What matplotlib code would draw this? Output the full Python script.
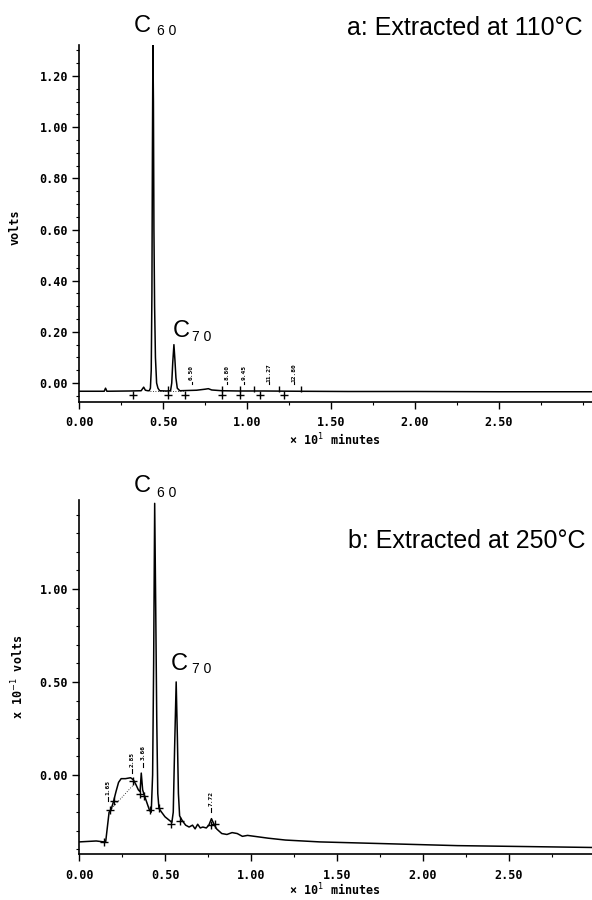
import matplotlib
matplotlib.use("Agg")
import matplotlib.pyplot as plt
from matplotlib.ticker import MultipleLocator, FormatStrFormatter, FixedLocator

# ---------------- data ----------------
# panel a: extracted at 110 C  (x in 10^1 minutes, y in volts)
a_time = [0.00, 0.10, 0.150, 0.158, 0.166, 0.30, 0.37, 0.385, 0.395, 0.41, 0.418,
          0.425, 0.430, 0.434, 0.437, 0.440, 0.443, 0.446, 0.450, 0.455, 0.462,
          0.470, 0.48, 0.52, 0.545, 0.552, 0.558, 0.565, 0.571, 0.577, 0.585,
          0.60, 0.65, 0.70, 0.75, 0.77, 0.79, 0.85, 0.95, 1.10, 1.30, 1.60,
          2.00, 2.50, 3.06]
a_volts = [-0.032, -0.032, -0.032, -0.020, -0.032, -0.031, -0.030, -0.016, -0.028, -0.030, -0.030,
           -0.020, 0.050, 0.350, 0.900, 1.320, 1.100, 0.600, 0.300, 0.100, 0.000,
           -0.020, -0.030, -0.031, -0.030, 0.000, 0.080, 0.150, 0.090, 0.020, -0.020,
           -0.030, -0.029, -0.028, -0.024, -0.022, -0.027, -0.030, -0.031, -0.031, -0.032, -0.033,
           -0.033, -0.034, -0.034]
a_marks_low = [0.32, 0.53, 0.63, 0.85, 0.96, 1.08, 1.22]
a_marks_high = [0.53, 0.85, 0.96, 1.04, 1.19, 1.32]
a_peak_pos = [0.67, 0.88, 0.98, 1.13, 1.28]
a_peak_labels = ["6.50", "8.80", "9.45", "11.27", "12.80"]

# panel b: extracted at 250 C  (x in 10^1 minutes, y in 10^-1 volts)
b_time = [0.00, 0.10, 0.145, 0.155, 0.165, 0.175, 0.185, 0.200, 0.215, 0.230, 0.245,
          0.270, 0.300, 0.315, 0.330, 0.345, 0.355, 0.362, 0.370, 0.380, 0.395,
          0.410, 0.420, 0.428, 0.434, 0.440, 0.446, 0.452, 0.458, 0.465, 0.480,
          0.500, 0.520, 0.540, 0.548, 0.556, 0.565, 0.572, 0.578, 0.585, 0.600,
          0.620, 0.640, 0.660, 0.675, 0.690, 0.705, 0.720, 0.740, 0.755, 0.770,
          0.785, 0.800, 0.830, 0.860, 0.890, 0.920, 0.950, 0.980, 1.020, 1.100,
          1.200, 1.400, 1.800, 2.200, 2.600, 2.990]
b_volts = [-0.36, -0.355, -0.36, -0.36, -0.28, -0.20, -0.19, -0.145, -0.09, -0.04, -0.02,
           -0.02, -0.015, -0.025, -0.05, -0.08, -0.09, 0.01, -0.08, -0.11, -0.15,
           -0.19, -0.20, 0.00, 0.60, 1.46, 0.90, 0.30, -0.10, -0.18, -0.20,
           -0.225, -0.24, -0.255, -0.20, 0.15, 0.50, 0.20, -0.10, -0.22, -0.245,
           -0.27, -0.28, -0.27, -0.29, -0.265, -0.285, -0.28, -0.285, -0.27, -0.235,
           -0.265, -0.29, -0.315, -0.32, -0.31, -0.315, -0.33, -0.325, -0.33, -0.34,
           -0.35, -0.36, -0.37, -0.38, -0.385, -0.39]
b_mark_time = [0.148, 0.18, 0.205, 0.315, 0.355, 0.38, 0.415, 0.465, 0.535, 0.59, 0.77, 0.79]
b_mark_volts = [-0.36, -0.19, -0.14, -0.03, -0.10, -0.115, -0.19, -0.18, -0.265, -0.245, -0.27, -0.265]
b_peak_pos = [0.17, 0.31, 0.37, 0.77]
b_peak_label_y = [-0.065, 0.085, 0.12, -0.125]
b_peak_labels = ["1.65", "2.85", "3.66", "7.72"]
b_dotted_time = [0.18, 0.32]
b_dotted_volts = [-0.19, -0.05]

x_tick_values = [0.0, 0.5, 1.0, 1.5, 2.0, 2.5]

W, H = 592, 900
fig = plt.figure(figsize=(W / 100, H / 100), dpi=100)

def fx(px):
    return px / W

def fy(py):
    return 1 - py / H

MONO = dict(family="DejaVu Sans Mono", weight="bold")
SANS = "Liberation Sans"

def style_axes(ax, xmax, ylo, yhi, ymaj, ymin, fmt, xpad):
    ax.set_xlim(0, xmax)
    ax.set_ylim(ylo, yhi)
    for s in ("top", "right"):
        ax.spines[s].set_visible(False)
    for s in ("left", "bottom"):
        ax.spines[s].set_linewidth(1.2)
    ax.xaxis.set_major_locator(FixedLocator(x_tick_values))
    ax.xaxis.set_minor_locator(MultipleLocator(0.25))
    ax.yaxis.set_major_locator(MultipleLocator(ymaj))
    ax.yaxis.set_minor_locator(MultipleLocator(ymin))
    ax.xaxis.set_major_formatter(FormatStrFormatter("%.2f"))
    ax.yaxis.set_major_formatter(FormatStrFormatter(fmt))
    ax.tick_params(which="major", direction="out", length=5, width=1.0)
    ax.tick_params(which="minor", direction="out", length=2.5, width=0.8)
    ax.tick_params(axis="x", pad=xpad)
    ax.tick_params(axis="y", pad=3)
    for lab in ax.get_xticklabels() + ax.get_yticklabels():
        lab.set_fontfamily("DejaVu Sans Mono")
        lab.set_fontweight("bold")
        lab.set_fontsize(8.5)
    ax.patch.set_alpha(0)

# ---------------- panel a ----------------
ax1 = fig.add_axes([fx(79), fy(402), fx(W - 79), fy(45) - fy(402)])
ax1.plot(a_time, a_volts, color="black", lw=1.1)
ax1.plot([0.42, 0.62], [-0.031, -0.031], color="black", lw=0.6, ls=(0, (1, 2)))
ax1.plot(a_marks_low, [-0.048] * len(a_marks_low), ls="none", marker="+",
         ms=6, mew=1.0, color="black")
ax1.plot(a_marks_high, [-0.022] * len(a_marks_high), ls="none", marker="|",
         ms=5, mew=1.0, color="black")
for xp, lab in zip(a_peak_pos, a_peak_labels):
    ax1.text(xp, 0.04, lab, rotation=90, ha="center", va="center",
             fontsize=4.5, family="DejaVu Sans Mono", weight="bold")
    ax1.plot([xp, xp], [-0.004, 0.006], color="black", lw=0.8)
style_axes(ax1, (W - 79) / 168, -0.074, 1.321, 0.2, 0.05, "%.2f", 5)

# ---------------- panel b ----------------
ax2 = fig.add_axes([fx(79), fy(854), fx(W - 79), fy(500) - fy(854)])
ax2.plot(b_time, b_volts, color="black", lw=1.1)
ax2.plot(b_dotted_time, b_dotted_volts, color="black", lw=0.6, ls=(0, (1, 2)))
ax2.plot(b_mark_time, b_mark_volts, ls="none", marker="+", ms=6, mew=1.0, color="black")
for xp, yp, lab in zip(b_peak_pos, b_peak_label_y, b_peak_labels):
    ax2.text(xp, yp, lab, rotation=90, ha="center", va="center",
             fontsize=4.5, family="DejaVu Sans Mono", weight="bold")
    ax2.plot([xp, xp], [yp - 0.075, yp - 0.055], color="black", lw=0.8)
style_axes(ax2, (W - 79) / 172, -0.425, 1.478, 0.5, 0.1, "%.2f", 6)

# ---------------- texts ----------------
fig.text(fx(583), fy(35), "a: Extracted at 110°C", ha="right", va="baseline",
         fontsize=18, family=SANS)
fig.text(fx(585), fy(548), "b: Extracted at 250°C", ha="right", va="baseline",
         fontsize=18, family=SANS)

def clabel(px, py, sub, spx, spy):
    fig.text(fx(px), fy(py), "C", ha="left", va="baseline", fontsize=17, family=SANS)
    fig.text(fx(spx), fy(spy), sub, ha="left", va="baseline", fontsize=10, family=SANS)

clabel(134, 32, "6 0", 157, 35)
clabel(173, 337, "7 0", 192, 341)
clabel(134, 492, "6 0", 157, 497)
clabel(171, 670, "7 0", 192, 673)

fig.text(fx(15), fy(227), "volts", rotation=90, ha="center", va="center",
         fontsize=8.5, **MONO)
fig.text(fx(18), fy(677), "x 10$^{-1}$ volts", rotation=90, ha="center", va="center",
         fontsize=8.5, **MONO)
fig.text(fx(335), fy(440), "× 10$^{1}$ minutes", ha="center", va="center",
         fontsize=8.5, **MONO)
fig.text(fx(335), fy(890), "× 10$^{1}$ minutes", ha="center", va="center",
         fontsize=8.5, **MONO)

fig.savefig("out.png", dpi=100)
